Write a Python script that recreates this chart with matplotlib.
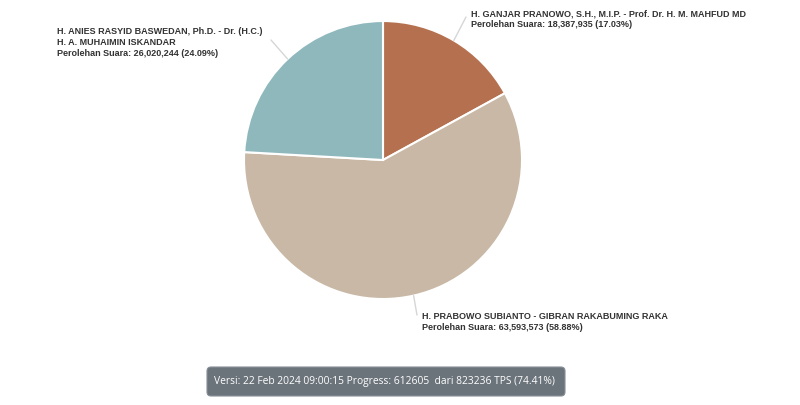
import matplotlib.pyplot as plt
import numpy as np
from matplotlib.patches import FancyBboxPatch

# candidate pairs, votes and shares (clockwise from 12 o'clock)
names = [
    'H. GANJAR PRANOWO, S.H., M.I.P. - Prof. Dr. H. M. MAHFUD MD',
    'H. PRABOWO SUBIANTO - GIBRAN RAKABUMING RAKA',
    'H. ANIES RASYID BASWEDAN, Ph.D. - Dr. (H.C.)\nH. A. MUHAIMIN ISKANDAR',
]
votes = [18387935, 63593573, 26020244]
shares = [17.03, 58.88, 24.09]
colors = ['#b5714f', '#c8b8a5', '#8fb8bd']
footer = 'Versi: 22 Feb 2024 09:00:15 Progress: 612605  dari 823236 TPS (74.41%)'

fig = plt.figure(figsize=(8, 4.05), dpi=100)
ax = fig.add_axes([0.305, 0.2617, 0.3475, 0.6864])
wedges, _ = ax.pie(votes, colors=colors, startangle=90, counterclock=False,
                   wedgeprops=dict(edgecolor='white', linewidth=1.5))
ax.set_xlim(-1, 1)
ax.set_ylim(-1, 1)
ax.set_aspect('equal')

# label anchor (text left, first-line top) and connector end, in figure pixels
text_pos = [(471, 405 - 9), (422, 405 - 312), (57, 405 - 27)]
line_end = [(466, 405 - 17), (417, 405 - 315), (271, 405 - 40)]

for w, name, v, s, tp, le in zip(wedges, names, votes, shares, text_pos, line_end):
    ang = np.deg2rad((w.theta1 + w.theta2) / 2)
    edge = (np.cos(ang), np.sin(ang))
    ax.annotate('', xy=edge, xycoords='data', xytext=le, textcoords='figure pixels',
                arrowprops=dict(arrowstyle='-', color='#d6d6d6', lw=1,
                                shrinkA=0, shrinkB=0), annotation_clip=False)
    label = f'{name}\nPerolehan Suara: {v:,} ({s:.2f}%)'
    fig.text(tp[0] / 800, tp[1] / 405, label, ha='left', va='top',
             fontsize=6.5, fontweight='bold', color='#333333',
             family='Liberation Sans', linespacing=1.3)

box = FancyBboxPatch((2.07, 0.09), 3.58, 0.29, boxstyle='round,pad=0,rounding_size=0.04',
                     transform=fig.dpi_scale_trans, facecolor='#6b737b',
                     edgecolor='#8a9097', linewidth=0.8)
fig.patches.append(box)
fig.text(3.84 / 8, 0.235 / 4.05, footer, ha='center', va='center',
         fontsize=7.4, color='white', family='Open Sans')

plt.savefig('out.png', dpi=100, facecolor='white')
